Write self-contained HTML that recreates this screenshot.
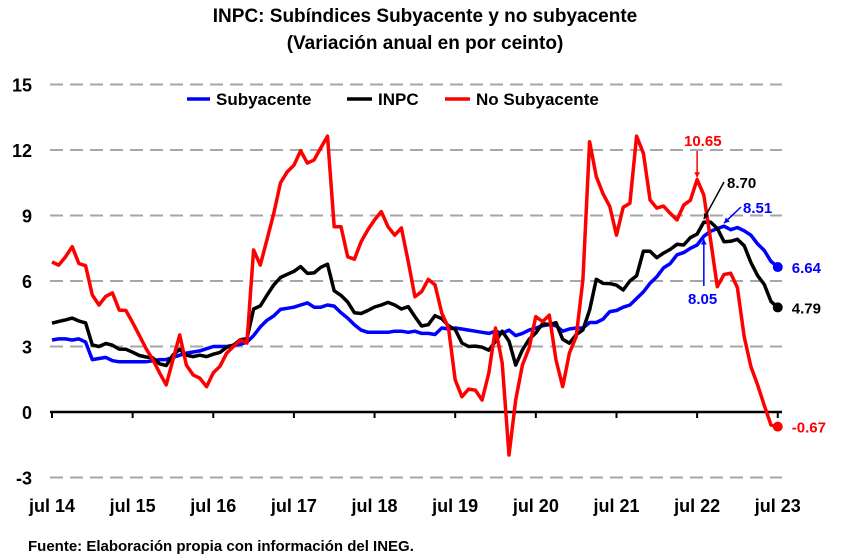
<!DOCTYPE html>
<html><head><meta charset="utf-8"><style>
body{margin:0;background:#fff;}
svg{display:block;font-family:"Liberation Sans",sans-serif;}
</style></head><body>
<svg id="chart" width="850" height="560">
<text x="425" y="22" text-anchor="middle" font-size="19" font-weight="bold">INPC: Subíndices Subyacente y no subyacente</text>
<text x="425" y="49" text-anchor="middle" font-size="19" font-weight="bold">(Variación anual en por ceinto)</text>
<g id="grid"></g>
<g id="yticks"></g>
<g id="xaxis"></g>
<g id="series"></g>
<g font-size="17" font-weight="bold">
<g><line x1="187" y1="99" x2="210" y2="99" stroke="#0000ff" stroke-width="3.5"/><text x="216" y="105">Subyacente</text></g>
<g><line x1="347" y1="99" x2="372" y2="99" stroke="#000" stroke-width="3.5"/><text x="378" y="105">INPC</text></g>
<g><line x1="445" y1="99" x2="470" y2="99" stroke="#ff0000" stroke-width="3.5"/><text x="476" y="105">No Subyacente</text></g>
</g>
<g id="annot" font-size="15" font-weight="bold"></g>
<text x="28" y="551" font-size="15" font-weight="bold">Fuente: Elaboración propia con información del INEG.</text>
</svg>
<script>
const yTicks=[15,12,9,6,3,0,-3];
const xLabels=["jul 14","jul 15","jul 16","jul 17","jul 18","jul 19","jul 20","jul 21","jul 22","jul 23"];
const subyacente=[3.3,3.35,3.35,3.3,3.35,3.2,2.4,2.45,2.5,2.35,2.3,2.3,2.3,2.3,2.3,2.35,2.4,2.4,2.5,2.6,2.7,2.75,2.8,2.9,3.0,3.0,3.0,3.05,3.1,3.2,3.5,3.9,4.2,4.4,4.7,4.75,4.8,4.9,5.0,4.8,4.8,4.9,4.85,4.55,4.3,4.0,3.75,3.65,3.65,3.65,3.65,3.7,3.7,3.65,3.7,3.6,3.6,3.55,3.85,3.8,3.85,3.8,3.75,3.7,3.65,3.6,3.7,3.6,3.75,3.5,3.6,3.75,3.85,3.95,4.0,3.95,3.7,3.8,3.85,3.85,4.1,4.1,4.25,4.6,4.65,4.8,4.9,5.2,5.5,5.9,6.2,6.6,6.8,7.2,7.3,7.5,7.65,8.05,8.28,8.4,8.51,8.35,8.45,8.3,8.1,7.7,7.4,6.9,6.64];
const inpc=[4.07,4.15,4.22,4.3,4.17,4.08,3.07,3.0,3.14,3.06,2.88,2.87,2.74,2.59,2.52,2.48,2.21,2.13,2.61,2.87,2.6,2.54,2.6,2.54,2.65,2.73,2.97,3.06,3.31,3.36,4.72,4.86,5.35,5.82,6.16,6.31,6.44,6.66,6.35,6.37,6.63,6.77,5.55,5.34,5.04,4.55,4.51,4.65,4.81,4.9,5.02,4.9,4.72,4.83,4.37,3.94,4.0,4.41,4.28,3.95,3.78,3.16,3.0,3.02,2.97,2.83,3.24,3.7,3.25,2.15,2.84,3.33,3.62,4.05,4.01,4.09,3.33,3.15,3.54,3.76,4.67,6.08,5.89,5.88,5.81,5.59,6.0,6.24,7.37,7.36,7.07,7.28,7.45,7.68,7.65,7.99,8.15,8.7,8.7,8.41,7.8,7.82,7.91,7.62,6.85,6.25,5.84,5.06,4.79];
const noSubyacente=[6.87,6.73,7.1,7.57,6.8,6.7,5.36,4.9,5.3,5.45,4.67,4.65,4.1,3.5,2.9,2.4,1.8,1.24,2.4,3.53,2.15,1.7,1.55,1.16,1.8,2.1,2.7,3.0,3.3,3.16,7.42,6.73,7.9,9.1,10.5,11.0,11.3,11.97,11.4,11.55,12.1,12.64,8.49,8.49,7.11,7.0,7.8,8.34,8.8,9.18,8.49,8.1,8.43,6.9,5.28,5.51,6.08,5.82,4.53,3.85,1.47,0.7,1.05,1.0,0.55,1.78,3.85,2.24,-1.97,0.55,2.15,2.93,4.37,4.14,4.44,2.38,1.16,2.7,3.45,6.05,12.38,10.78,10.0,9.41,8.1,9.38,9.56,12.64,11.85,9.71,9.34,9.43,9.1,8.8,9.48,9.7,10.65,9.94,7.88,5.74,6.3,6.36,5.7,3.45,2.08,1.24,0.3,-0.6,-0.67];
const NS="http://www.w3.org/2000/svg";
const x0=52,dx=6.72;
function xs(i){return x0+i*dx;}
function ys(v){return 412-v*21.83;}
function mk(t,a,p){const e=document.createElementNS(NS,t);for(const k in a)e.setAttribute(k,a[k]);p.appendChild(e);return e;}
const grid=document.getElementById('grid'),yt=document.getElementById('yticks'),xa=document.getElementById('xaxis'),ser=document.getElementById('series'),an=document.getElementById('annot');
yTicks.forEach(v=>{
 if(v!==0){const g=mk('line',{x1:50,x2:782,y1:ys(v),y2:ys(v),stroke:'#a6a6a6','stroke-width':2,'stroke-dasharray':'13,7'},grid);
 
 }
 const t=mk('text',{x:32,y:ys(v)+7,'text-anchor':'end','font-size':18,'font-weight':'bold'},yt);t.textContent=v;
 
 
});
const ax=mk('line',{x1:50,x2:782,y1:412,y2:412,stroke:'#000','stroke-width':2.5},xa);


xLabels.forEach((l,i)=>{const x=xs(i*12);
 const tk=mk('line',{x1:x,x2:x,y1:412,y2:418,stroke:'#000','stroke-width':2},xa);
 
 
 const t=mk('text',{x:x,y:512,'text-anchor':'middle','font-size':18,'font-weight':'bold'},xa);t.textContent=l;
 
 
});
function line(arr,col,name){
 const p=mk('polyline',{points:arr.map((v,i)=>xs(i).toFixed(1)+','+ys(v).toFixed(1)).join(' '),fill:'none',stroke:col,'stroke-width':3.5,'stroke-linejoin':'round'},ser);
 
 
 const n=arr.length-1;
 const c=mk('circle',{cx:xs(n),cy:ys(arr[n]),r:5,fill:col},ser);
 
 
 const t=mk('text',{x:xs(n)+14,y:ys(arr[n])+6,fill:col},an);t.textContent=arr[n].toFixed(2);
 
 
}
line(subyacente,'#0000ff','subyacente');
line(inpc,'#000000','inpc');
line(noSubyacente,'#ff0000','no-subyacente');
function callout(text,col,tx,ty,x1,y1,x2,y2,name){
 const t=mk('text',{x:tx,y:ty,fill:col},an);t.textContent=text;
 
 
 mk('line',{x1:x1,y1:y1,x2:x2,y2:y2,stroke:col,'stroke-width':1.5},an);
 const a=Math.atan2(y2-y1,x2-x1),s=6;
 mk('polygon',{points:`${x2},${y2} ${x2-s*Math.cos(a-0.5)},${y2-s*Math.sin(a-0.5)} ${x2-s*Math.cos(a+0.5)},${y2-s*Math.sin(a+0.5)}`,fill:col},an);
}
const iR=noSubyacente.indexOf(Math.max(...noSubyacente.slice(90)));
callout('10.65','#ff0000',684,146,xs(96),151,xs(96),ys(noSubyacente[96])-2,'callout-no-subyacente-peak');
callout('8.70','#000000',727,188,724,182,xs(97),ys(inpc[97])-3,'callout-inpc-peak');
callout('8.51','#0000ff',743,213,741,207,xs(100),ys(subyacente[100])-3,'callout-subyacente-peak');
callout('8.05','#0000ff',688,304,xs(97),286,xs(97),ys(subyacente[97])+3,'callout-subyacente-aug22');
</script>
</body></html>
